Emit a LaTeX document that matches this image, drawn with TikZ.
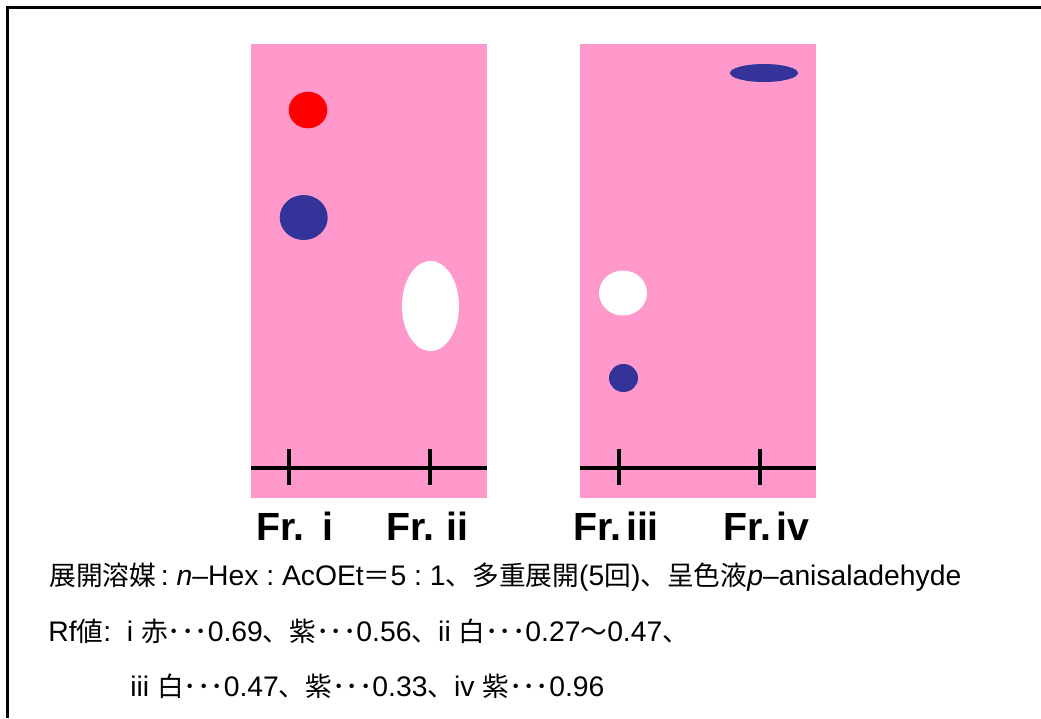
\documentclass[tikz,border=0pt]{standalone}
\usepackage{fontspec}
\setmainfont[Scale=1.06]{Liberation Sans}
\newfontfamily\jp{Noto Sans CJK JP}
\definecolor{plate}{HTML}{FF99CC}
\definecolor{violet}{HTML}{333399}
\newcommand\rfdots{{\jp ･･･}}
\begin{document}
\begin{tikzpicture}[x=0.02cm,y=-0.02cm,
    plate/.style={fill=plate},
    origin/.style={line width=2.2pt},
    frlabel/.style={anchor=base west,inner sep=0pt,font=\fontsize{21.1}{26}\selectfont\bfseries},
    txt/.style={anchor=base west,inner sep=0pt,font=\fontsize{15.2}{18}\selectfont}]
  \useasboundingbox (0,0) rectangle (1041,718);
  % frame
  \draw [line width=1.7pt] (7.5,718) -- (7.5,7.5) -- (1041,7.5);
  % plates
  \fill [plate] (251,44) rectangle (487,498);
  \fill [plate] (580,44) rectangle (816,498);
  % origin lines and ticks
  \draw [origin] (251,468) -- (487,468);
  \draw [origin] (580,468) -- (816,468);
  \foreach \x in {289,430,619,760}
    \draw [origin] (\x,449) -- (\x,485);
  % spots, Fr. i and ii
  \fill [red] (308,110) ellipse [x radius=19.3, y radius=18.3];
  \fill [violet] (303.7,217.5) ellipse [x radius=24, y radius=22.5];
  \fill [white] (430.5,306) ellipse [x radius=28.5, y radius=45];
  % spots, Fr. iii and iv
  \fill [white] (623,293) ellipse [x radius=24, y radius=22.5];
  \fill [violet] (623.5,378) ellipse [x radius=14.5, y radius=14];
  \fill [violet] (764,73) ellipse [x radius=34, y radius=9];
  % fraction labels
  \node [frlabel] (fr1) at (256,540) {Fr.\hspace{0.45em}i};
  \node [frlabel] (fr2) at (386,540) {Fr.\hspace{0.3em}ii};
  \node [frlabel] (fr3) at (573,540) {Fr.\hspace{0.12em}iii};
  \node [frlabel] (fr4) at (723,540) {Fr.\hspace{0.12em}iv};
  % conditions and Rf values
  \node [txt] (solvent) at (49,585) {{\jp 展開溶媒}\,:\ {\itshape n}–Hex\ :\ AcOEt{\jp ＝}5\ :\ 1{\jp 、多重展開}(5{\jp 回}){\jp 、呈色液}{\itshape p}–anisaladehyde};
  \node [txt] (rf1) at (48,641) {Rf{\jp 値}:\ \ i\ {\jp 赤}\rfdots0.69{\jp 、紫}\rfdots0.56{\jp 、}ii\ {\jp 白}\rfdots0.27{\jp 〜}0.47{\jp 、}};
  \node [txt] (rf2) at (130,696) {iii {\jp 白}\rfdots0.47{\jp 、紫}\rfdots0.33{\jp 、}iv {\jp 紫}\rfdots0.96};
\end{tikzpicture}
\end{document}
